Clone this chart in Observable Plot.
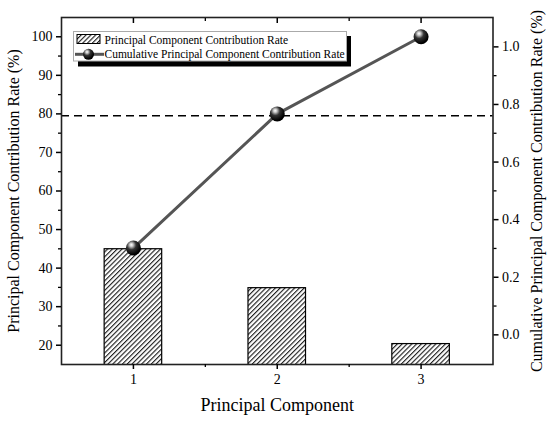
<!DOCTYPE html>
<html>
<head>
<meta charset="utf-8">
<script src="https://cdn.jsdelivr.net/npm/d3@7"></script>
<script src="https://cdn.jsdelivr.net/npm/@observablehq/plot@0.6"></script>
<style>
  html, body { margin: 0; padding: 0; background: #fff; }
  #chart svg { display: block; }
  #chart svg, #chart svg text { font-family: 'Liberation Serif', 'Times New Roman', serif; }
</style>
</head>
<body>
<div id="chart"></div>
<script>
// ---- data ----
const components = [1, 2, 3];
const contributionRate = [44.9, 34.8, 20.3];          // bars, left axis (%)
const cumulativeRate = [45.2, 80.0, 100.0];           // line, left axis (%)
const threshold = [79.5];                             // dashed reference line
const leftTicks = [20, 30, 40, 50, 60, 70, 80, 90, 100];
const leftMinor = [25, 35, 45, 55, 65, 75, 85, 95];
const rightTicks = [0.0, 0.2, 0.4, 0.6, 0.8, 1.0];
const rightMinor = [0.1, 0.3, 0.5, 0.7, 0.9];
const xTicks = [1, 2, 3];
const xMinor = [1.5, 2.5];
const seriesNames = ["Principal Component Contribution Rate", "Cumulative Principal Component Contribution Rate"];

const yDomain = [15, 105];
const rDomain = [-0.103, 1.102];
const toLeft = r => yDomain[0] + (r - rDomain[0]) / (rDomain[1] - rDomain[0]) * (yDomain[1] - yDomain[0]);
const toRight = l => rDomain[0] + (l - yDomain[0]) / (yDomain[1] - yDomain[0]) * (rDomain[1] - rDomain[0]);

const bars = components.map((c, i) => ({pc: c, rate: contributionRate[i]}));
const cum = components.map((c, i) => ({pc: c, rate: cumulativeRate[i]}));
const halfW = 0.2;
const font = "'Liberation Serif', 'Times New Roman', serif";

const chart = Plot.plot({
  width: 550,
  height: 430,
  marginLeft: 61,
  marginRight: 57.5,
  marginTop: 17,
  marginBottom: 66,
  style: {fontFamily: font, fontSize: "14px", color: "#000", background: "#fff"},
  x: {domain: [0.5, 3.5], axis: null},
  y: {domain: yDomain, axis: null},
  marks: [
    Plot.rectY(bars, {x1: d => d.pc - halfW, x2: d => d.pc + halfW, y: "rate", fill: "url(#hatch)", stroke: "#000", strokeWidth: 1.2, clip: true}),
    Plot.ruleY(threshold, {stroke: "#000", strokeWidth: 1.4, strokeDasharray: "8,5"}),
    Plot.line(cum, {x: "pc", y: "rate", stroke: "#555", strokeWidth: 3}),
    Plot.dot(cum, {x: "pc", y: "rate", r: 7.5, fill: "url(#ball)", stroke: "none"}),
    Plot.frame({stroke: "#222", strokeWidth: 1.6}),
    // bottom axis
    Plot.axisX(xTicks, {anchor: "bottom", tickSize: 5, tickPadding: 5, fontSize: 14, fontFamily: font, strokeWidth: 1.5, label: null, tickFormat: d => String(d)}),
    Plot.axisX(xMinor, {anchor: "bottom", tickSize: 3, tickFormat: () => "", strokeWidth: 1.3, label: null}),
    // top axis (inward ticks)
    Plot.axisX(xTicks, {anchor: "top", tickSize: -5, tickFormat: () => "", strokeWidth: 1.5, label: null}),
    Plot.axisX(xMinor, {anchor: "top", tickSize: -3, tickFormat: () => "", strokeWidth: 1.3, label: null}),
    // left axis
    Plot.axisY(leftTicks, {anchor: "left", tickSize: 5, tickPadding: 4, fontSize: 14, fontFamily: font, strokeWidth: 1.5, label: null, tickFormat: d => String(d)}),
    Plot.axisY(leftMinor, {anchor: "left", tickSize: 3, tickFormat: () => "", strokeWidth: 1.3, label: null}),
    // right axis
    Plot.axisY(rightTicks.map(toLeft), {anchor: "right", tickSize: 5, tickPadding: 4, fontSize: 14, fontFamily: font, strokeWidth: 1.5, label: null,
      tickFormat: l => Math.abs(toRight(l)).toFixed(1)}),
    Plot.axisY(rightMinor.map(toLeft), {anchor: "right", tickSize: 3, tickFormat: () => "", strokeWidth: 1.3, label: null}),
    // axis titles
    Plot.text(["Principal Component"], {frameAnchor: "bottom", dy: 46, fontSize: 18, fontFamily: font, fill: "#000", textAnchor: "middle"}),
    Plot.text(["Principal Component Contribution Rate (%)"], {frameAnchor: "left", rotate: -90, dx: -48, fontSize: 16, fontFamily: font, fill: "#000", textAnchor: "middle"}),
    Plot.text(["Cumulative Principal Component Contribution Rate (%)"], {frameAnchor: "right", rotate: -90, dx: 44, fontSize: 16, fontFamily: font, fill: "#000", textAnchor: "middle"})
  ]
});

// defs: hatch pattern and glossy ball gradient
const svg = d3.select(chart);
const defs = svg.insert("defs", ":first-child");
const pat = defs.append("pattern").attr("id", "hatch").attr("patternUnits", "userSpaceOnUse")
  .attr("width", 3.4).attr("height", 3.4).attr("patternTransform", "rotate(45)");
pat.append("rect").attr("width", 3.4).attr("height", 3.4).attr("fill", "#fff");
pat.append("line").attr("x1", 0.6).attr("y1", 0).attr("x2", 0.6).attr("y2", 3.4).attr("stroke", "#000").attr("stroke-width", 1.0);
const grad = defs.append("radialGradient").attr("id", "ball").attr("cx", "38%").attr("cy", "32%").attr("r", "62%").attr("fx", "36%").attr("fy", "28%");
grad.append("stop").attr("offset", "0%").attr("stop-color", "#fff");
grad.append("stop").attr("offset", "18%").attr("stop-color", "#ccc");
grad.append("stop").attr("offset", "50%").attr("stop-color", "#333");
grad.append("stop").attr("offset", "100%").attr("stop-color", "#000");

// legend
const lg = svg.append("g").attr("font-family", font).attr("font-size", 11.5).attr("text-anchor", "start");
lg.append("rect").attr("x", 78).attr("y", 36).attr("width", 273).attr("height", 30.5).attr("fill", "#000");
lg.append("rect").attr("x", 73.5).attr("y", 31.5).attr("width", 273).attr("height", 29.5).attr("fill", "#fff").attr("stroke", "#aaa").attr("stroke-width", 1);
lg.append("rect").attr("x", 77).attr("y", 34.5).attr("width", 23).attr("height", 9).attr("fill", "url(#hatch)").attr("stroke", "#000").attr("stroke-width", 1);
lg.append("text").attr("x", 104.5).attr("y", 44).attr("fill", "#000").attr("text-anchor", "start").text(seriesNames[0]);
lg.append("line").attr("x1", 75).attr("x2", 104).attr("y1", 54.3).attr("y2", 54.3).attr("stroke", "#555").attr("stroke-width", 3);
lg.append("circle").attr("cx", 88.5).attr("cy", 54.3).attr("r", 5.5).attr("fill", "url(#ball)");
lg.append("text").attr("x", 104.5).attr("y", 58.3).attr("fill", "#000").attr("text-anchor", "start").text(seriesNames[1]);

document.getElementById("chart").appendChild(chart);
</script>
</body>
</html>
